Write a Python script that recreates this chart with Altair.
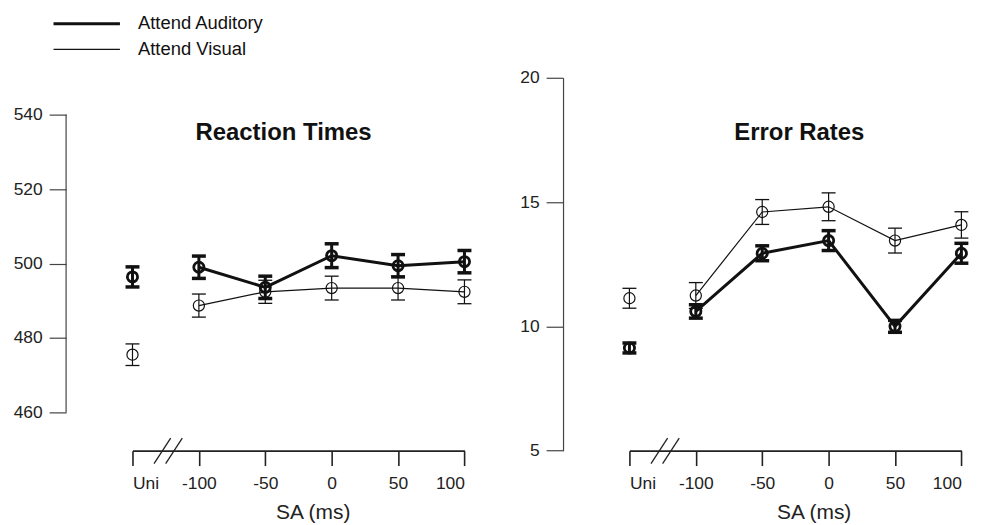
import json
import altair as alt
import pandas as pd

# ---------------- data ----------------
sa_labels = ["Uni", "-100", "-50", "0", "50", "100"]
series_names = ["Attend Auditory", "Attend Visual"]

rt_auditory = [496.4, 499.0, 493.6, 502.1, 499.4, 500.5]
rt_auditory_se = [2.7, 3.0, 3.0, 3.2, 3.0, 3.0]
rt_visual = [475.5, 488.7, 492.4, 493.4, 493.4, 492.4]
rt_visual_se = [2.9, 3.1, 3.1, 3.2, 3.2, 3.2]

er_auditory = [9.13, 10.60, 12.94, 13.45, 10.00, 12.94]
er_auditory_se = [0.20, 0.27, 0.30, 0.40, 0.24, 0.40]
er_visual = [11.13, 11.24, 14.60, 14.81, 13.45, 14.08]
er_visual_se = [0.40, 0.52, 0.50, 0.56, 0.50, 0.53]

rt_ticks = [460, 480, 500, 520, 540]
rt_axis_span = [460, 540]
er_ticks = [5, 10, 15, 20]

# axis-break slashes, in x-axis units (start, end)
break_slashes = [[0.325, 0.575], [0.50, 0.75]]

# ---------------- styling / geometry ----------------
INK = "#111111"
FONT = "Liberation Sans"
UNIT = 66.67
W = 5 * UNIT
H = 374.4

style = {
    "Attend Auditory": dict(line=3.0, cap=3.5, pt=105, ptw=2.8),
    "Attend Visual": dict(line=1.2, cap=1.3, pt=125, ptw=1.2),
}

label_expr = "%s[datum.value]" % json.dumps(sa_labels)


def make_df(aud, aud_se, vis, vis_se):
    rows = []
    for name, vals, ses in [(series_names[0], aud, aud_se), (series_names[1], vis, vis_se)]:
        for i, (lab, v, s) in enumerate(zip(sa_labels, vals, ses)):
            rows.append(dict(series=name, pos=i, label=lab, value=v, lo=v - s, hi=v + s))
    return pd.DataFrame(rows)


def panel(df, title, ydomain, yticks, title_x, axis_title_x, span=None, legend=False):
    xaxis = alt.Axis(
        values=list(range(6)), labelExpr=label_expr, title="SA (ms)",
        tickSize=15, tickWidth=1.6, tickColor="#222222",
        domainColor="#222222", domainWidth=1.8,
        labelPadding=9, labelFont=FONT, labelFontSize=17.5, labelColor="#222222",
        titleFont=FONT, titleFontSize=21, titleFontWeight="normal", titleColor="#222222",
        titleX=axis_title_x, titleY=68, titleBaseline="alphabetic", titleAnchor="start",
        titleAlign="center", grid=False,
    )
    yaxis = alt.Axis(
        values=yticks, domain=span is None, offset=UNIT, title=None, grid=False,
        tickSize=17, tickWidth=1.2, tickColor="#444444",
        domainColor="#444444", domainWidth=1.2,
        labelPadding=7, labelFont=FONT, labelFontSize=17.5, labelColor="#222222",
    )
    xscale = alt.Scale(domain=[0, 5], nice=False, zero=False)
    yscale = alt.Scale(domain=ydomain, nice=False, zero=False)

    def X(field):
        return alt.X(field, type="quantitative", scale=xscale, axis=xaxis)

    def Y(field):
        return alt.Y(field, type="quantitative", scale=yscale, axis=yaxis)

    layers = []
    for name in series_names:
        st = style[name]
        base = alt.Chart(df).transform_filter(alt.datum.series == name)
        layers.append(
            base.transform_filter("datum.pos > 0").mark_line(color=INK, strokeWidth=st["line"])
            .encode(x=X("pos"), y=Y("value"))
        )
        layers.append(
            base.mark_rule(color=INK, strokeWidth=st["line"])
            .encode(x=X("pos"), y=Y("lo"), y2="hi")
        )
        for f in ["lo", "hi"]:
            layers.append(
                base.mark_tick(color=INK, orient="horizontal", size=14, thickness=st["cap"], opacity=1)
                .encode(x=X("pos"), y=Y(f))
            )
        layers.append(
            base.mark_point(shape="circle", filled=False, color=INK, size=st["pt"],
                            strokeWidth=st["ptw"], opacity=1)
            .encode(x=X("pos"), y=Y("value"))
        )

    # axis break slashes
    bdf = pd.DataFrame({"x0": [b[0] for b in break_slashes], "x1": [b[1] for b in break_slashes]})
    layers.append(
        alt.Chart(bdf).mark_rule(color="#222222", strokeWidth=1.3)
        .encode(x=X("x0"), x2="x1", y=alt.value(H + 13), y2=alt.value(H - 12.5))
    )

    # partial y-axis line (left panel)
    if span is not None:
        sdf = pd.DataFrame({"v0": [span[0]], "v1": [span[1]]})
        layers.append(
            alt.Chart(sdf).mark_rule(color="#444444", strokeWidth=1.2)
            .encode(x=alt.value(-UNIT), y=Y("v0"), y2="v1")
        )

    # panel title
    layers.append(
        alt.Chart(pd.DataFrame({"t": [title]}))
        .mark_text(font=FONT, fontSize=24, fontWeight="bold", color=INK,
                   align="center", baseline="alphabetic")
        .encode(text="t:N", x=alt.value(title_x), y=alt.value(62))
    )

    if legend:
        for i, name in enumerate(series_names):
            ldf = pd.DataFrame({"series": [name]})
            yy = -54.3 + 25.7 * i
            layers.append(
                alt.Chart(ldf).mark_rule(color=INK, strokeWidth=style[name]["line"])
                .encode(x=alt.value(-79.3), x2=alt.value(-12.6), y=alt.value(yy))
            )
            layers.append(
                alt.Chart(ldf).mark_text(font=FONT, fontSize=18.5, color=INK,
                                         align="left", baseline="alphabetic")
                .encode(text="series:N", x=alt.value(5.5), y=alt.value(yy + 5.5))
            )

    return alt.layer(*layers).properties(
        width=W, height=H,
        view=alt.ViewBackground(stroke="transparent", strokeWidth=0),
    )


rt_df = make_df(rt_auditory, rt_auditory_se, rt_visual, rt_visual_se)
er_df = make_df(er_auditory, er_auditory_se, er_visual, er_visual_se)

left = panel(rt_df, "Reaction Times", [449.73, 549.9], rt_ticks, 151.7, 181,
             span=rt_axis_span, legend=True)
right = panel(er_df, "Error Rates", [5, 20], er_ticks, 170.6, 185)

chart = (
    alt.hconcat(left, right, spacing=165, bounds="flush")
    .properties(padding={"left": 5, "top": 5, "right": 0, "bottom": 0})
    .configure_view(stroke="transparent", strokeWidth=0)
    .configure_axis(grid=False)
    .configure(font=FONT)
)

chart.save("out.html", embed_options={"renderer": "svg", "actions": False})
